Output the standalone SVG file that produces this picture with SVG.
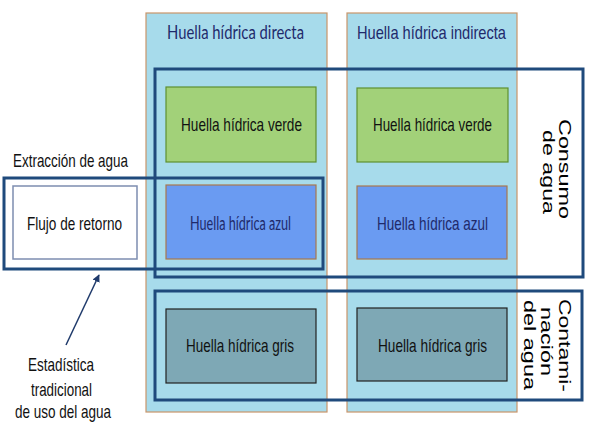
<svg xmlns="http://www.w3.org/2000/svg" width="599" height="448" viewBox="0 0 599 448">
<style>
.col{fill:#a7dbeb;stroke:#c8956a;stroke-width:1.2}
.frame{fill:none;stroke:#1f4a7c;stroke-width:3}
.verde{fill:#a2d179;stroke:#5e8f30;stroke-width:1.2}
.azul{fill:#6a9bf2;stroke:#a9774e;stroke-width:1.2}
.gris{fill:#7ea8b5;stroke:#222;stroke-width:1.2}
.flujo{fill:#fff;stroke:#7d8db0;stroke-width:1.5}
.t{font-family:"Liberation Sans",Arial,sans-serif;font-size:18.5px;fill:#111}
.c{font-family:Lato,"Open Sans",sans-serif;font-size:18.5px;fill:#1f2a6b}
.n{fill:#1f2a6b}
.r{font-family:"Liberation Sans",Arial,sans-serif;font-size:22px;fill:#000}
</style>
<defs>
<marker id="ah" viewBox="0 0 10 10" refX="9" refY="5" markerWidth="5" markerHeight="5" orient="auto">
<path d="M0,0 L10,5 L0,10 z" fill="#1f3a6b"/>
</marker>
</defs>
<rect width="599" height="448" fill="#fff"/>
<g id="col-directa">
<rect class="col" x="146" y="13" width="181" height="399"/>
<text class="c" x="167" y="39" textLength="137" lengthAdjust="spacingAndGlyphs">Huella hídrica directa</text>
</g>
<g id="col-indirecta">
<rect class="col" x="347" y="13" width="170" height="399"/>
<text class="t n" x="357" y="39" textLength="149" lengthAdjust="spacingAndGlyphs">Huella hídrica indirecta</text>
</g>
<g id="verde-directa">
<rect class="verde" x="166" y="87" width="150" height="75"/>
<text class="t" x="181" y="131" textLength="121" lengthAdjust="spacingAndGlyphs">Huella hídrica verde</text>
</g>
<g id="verde-indirecta">
<rect class="verde" x="357" y="88" width="151" height="74"/>
<text class="t" x="373" y="131" textLength="119" lengthAdjust="spacingAndGlyphs">Huella hídrica verde</text>
</g>
<g id="azul-directa">
<rect class="azul" x="166" y="185" width="150" height="74"/>
<text class="c" x="190" y="230" font-size="17.5" textLength="101" lengthAdjust="spacingAndGlyphs">Huella hídrica azul</text>
</g>
<g id="azul-indirecta">
<rect class="azul" x="357" y="186" width="150" height="73"/>
<text class="t n" x="377" y="230" textLength="111" lengthAdjust="spacingAndGlyphs">Huella hídrica azul</text>
</g>
<g id="gris-directa">
<rect class="gris" x="166" y="309" width="150" height="74"/>
<text class="t" x="186" y="352" textLength="108" lengthAdjust="spacingAndGlyphs">Huella hídrica gris</text>
</g>
<g id="gris-indirecta">
<rect class="gris" x="357" y="308" width="150" height="73"/>
<text class="t" x="378" y="352" textLength="109" lengthAdjust="spacingAndGlyphs">Huella hídrica gris</text>
</g>
<g id="flujo">
<rect class="flujo" x="13" y="186" width="124" height="73"/>
<text class="t" x="27" y="230" font-size="19" textLength="95" lengthAdjust="spacingAndGlyphs">Flujo de retorno</text>
</g>
<g id="extraccion">
<rect class="frame" x="4" y="178" width="319" height="91"/>
<text class="t" x="13" y="167" font-size="19" textLength="115" lengthAdjust="spacingAndGlyphs">Extracción de agua</text>
</g>
<g id="consumo">
<rect class="frame" x="155" y="69" width="428" height="208"/>
<text class="r" text-anchor="middle" transform="translate(559,169) rotate(90) scale(1,0.75)" textLength="100" lengthAdjust="spacingAndGlyphs">Consumo</text>
<text class="r" text-anchor="middle" transform="translate(543,172) rotate(90) scale(1,0.75)" textLength="84" lengthAdjust="spacingAndGlyphs">de agua</text>
</g>
<g id="contaminacion">
<rect class="frame" x="155" y="291" width="427" height="109"/>
<text class="r" text-anchor="middle" transform="translate(559,345.5) rotate(90) scale(1,0.75)" textLength="93" lengthAdjust="spacingAndGlyphs">Contami-</text>
<text class="r" text-anchor="middle" transform="translate(541,341.5) rotate(90) scale(1,0.75)" textLength="69" lengthAdjust="spacingAndGlyphs">nación</text>
<text class="r" text-anchor="middle" transform="translate(524,345) rotate(90) scale(1,0.75)" textLength="90" lengthAdjust="spacingAndGlyphs">del agua</text>
</g>
<g id="estadistica">
<text class="t" x="28" y="371" font-size="19" textLength="66" lengthAdjust="spacingAndGlyphs">Estadística</text>
<text class="t" x="31" y="396" font-size="19" textLength="61" lengthAdjust="spacingAndGlyphs">tradicional</text>
<text class="t" x="15" y="418" font-size="19" textLength="96" lengthAdjust="spacingAndGlyphs">de uso del agua</text>
</g>
<g id="connectors">
<line x1="66" y1="345" x2="99" y2="275" stroke="#1f3a6b" stroke-width="1.5" marker-end="url(#ah)"/>
</g>
</svg>
